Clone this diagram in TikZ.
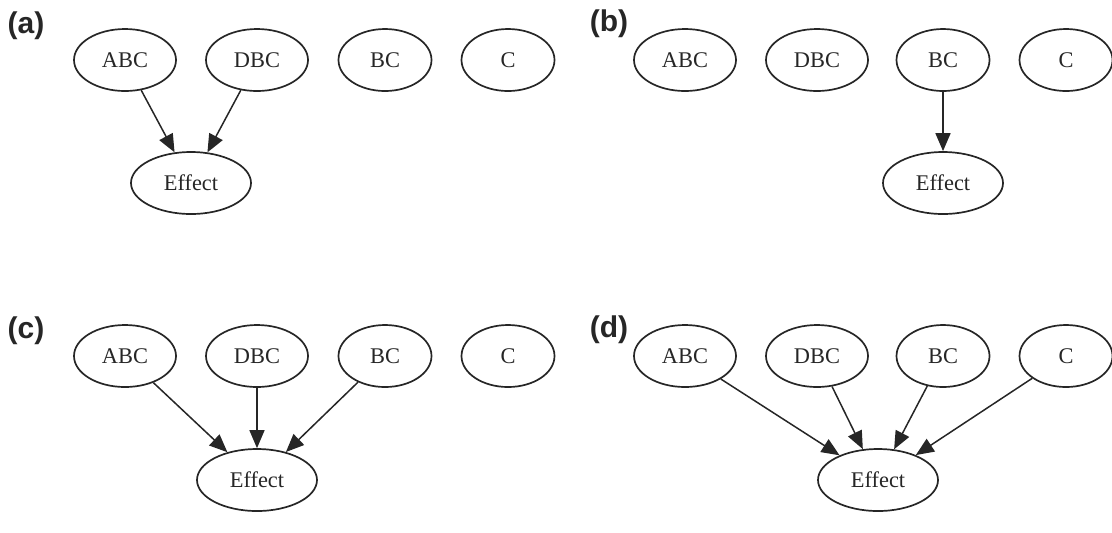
\documentclass[tikz,border=0pt]{standalone}
\usepackage{fontspec}
\setmainfont{Liberation Serif}
\newfontfamily\labfont{Liberation Sans}
\usetikzlibrary{shapes.geometric,arrows.meta}
\tikzset{
  nd/.style={ellipse, draw=black!85, line width=0.85pt, inner sep=0pt, minimum height=31pt, font=\fontsize{11.2}{13}\selectfont, text=black!85},
  wide/.style={nd, minimum width=51pt},
  narrow/.style={nd, minimum width=46.5pt},
  eff/.style={nd, minimum width=60pt},
  edge/.style={draw=black!85, line width=0.75pt, -{Triangle[length=9pt, width=7.5pt]}},
  plab/.style={font=\labfont\bfseries\fontsize{15}{17}\selectfont, inner sep=0pt, text=black!85}
}
\begin{document}
\begin{tikzpicture}[x=0.5pt, y=-0.5pt]
\useasboundingbox (0,0) rectangle (1112,532);
% panel labels
\node[plab] (la) at (26,26) {(a)};
\node[plab] (lb) at (609,24) {(b)};
\node[plab] (lc) at (26,331) {(c)};
\node[plab] (ld) at (609,330) {(d)};
% panel a
\node[wide] (aA) at (125,60) {ABC};
\node[wide] (aD) at (257,60) {DBC};
\node[narrow] (aB) at (385,60) {BC};
\node[narrow] (aC) at (508,60) {C};
\node[eff] (aE) at (191,183) {Effect};
\draw[edge] (aA) -- (aE);
\draw[edge] (aD) -- (aE);
% panel b
\node[wide] (bA) at (685,60) {ABC};
\node[wide] (bD) at (817,60) {DBC};
\node[narrow] (bB) at (943,60) {BC};
\node[narrow] (bC) at (1066,60) {C};
\node[eff] (bE) at (943,183) {Effect};
\draw[edge] (bB) -- (bE);
% panel c
\node[wide] (cA) at (125,356) {ABC};
\node[wide] (cD) at (257,356) {DBC};
\node[narrow] (cB) at (385,356) {BC};
\node[narrow] (cC) at (508,356) {C};
\node[eff] (cE) at (257,480) {Effect};
\draw[edge] (cA) -- (cE);
\draw[edge] (cD) -- (cE);
\draw[edge] (cB) -- (cE);
% panel d
\node[wide] (dA) at (685,356) {ABC};
\node[wide] (dD) at (817,356) {DBC};
\node[narrow] (dB) at (943,356) {BC};
\node[narrow] (dC) at (1066,356) {C};
\node[eff] (dE) at (878,480) {Effect};
\draw[edge] (dA) -- (dE);
\draw[edge] (dD) -- (dE);
\draw[edge] (dB) -- (dE);
\draw[edge] (dC) -- (dE);
\end{tikzpicture}
\end{document}
